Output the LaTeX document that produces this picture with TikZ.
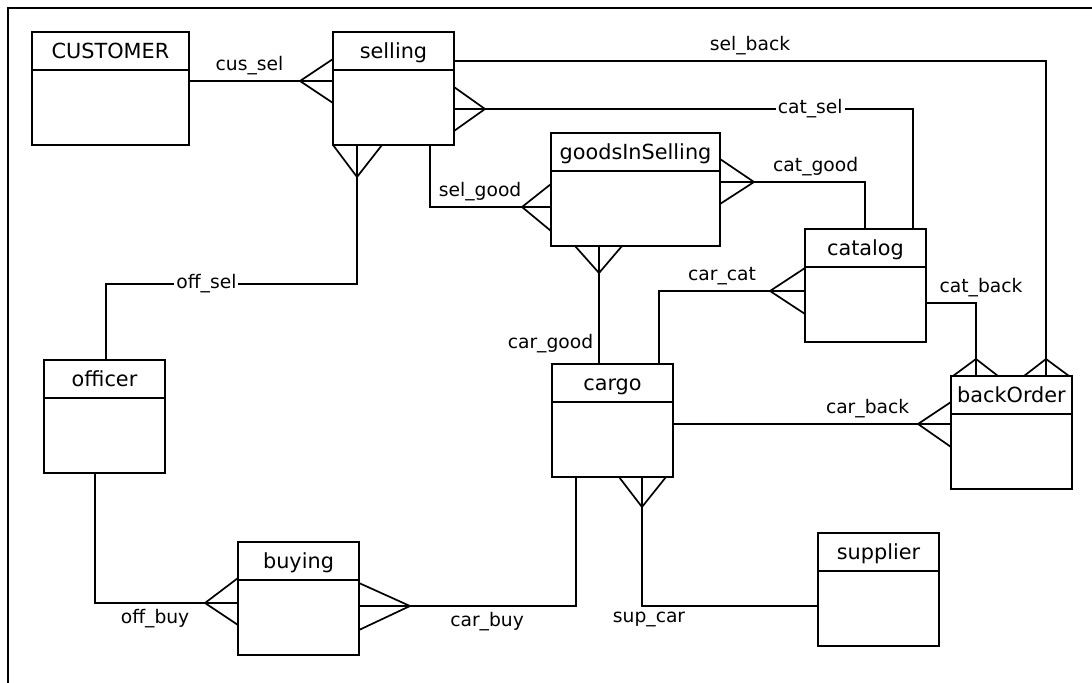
\documentclass[tikz,border=0pt]{standalone}
\usepackage{fontspec}
\setmainfont{DejaVu Sans}
\usetikzlibrary{calc, shapes.multipart}
\newcommand{\enttitle}[1]{\rule[-5.3pt]{0pt}{18pt}#1\nodepart{two}\rule{0pt}{36.5pt}}

\begin{document}
\begin{tikzpicture}[
  x=0.5pt, y=-0.5pt,
  font=\fontsize{9.35}{11}\selectfont,
  entity/.style={draw, line width=1pt, rectangle split, rectangle split parts=2, anchor=north west,
    inner xsep=0pt, inner ysep=0pt, outer sep=0pt, text width=60.5pt, align=center,
    font=\fontsize{10.4}{12}\selectfont},
  rel/.style={line width=0.85pt},
  foot/.style={line width=0.85pt, line join=miter},
  lbl/.style={inner sep=2.5pt},
  onlbl/.style={inner sep=1pt, fill=white}
]
\useasboundingbox (0,0) rectangle (1092,683);
\draw[line width=0.9pt] (8,683) -- (8,8) -- (1092,8);
% entities
\node[entity, text width=78.5pt] (customer) at (32,32) {\enttitle{CUSTOMER}};
\node[entity] (selling) at (333,32) {\enttitle{selling}};
\node[entity, text width=84.5pt] (goods) at (551,133) {\enttitle{goodsInSelling}};
\node[entity] (catalog) at (805,229) {\enttitle{catalog}};
\node[entity] (officer) at (44,360) {\enttitle{officer}};
\node[entity] (buying) at (238,542) {\enttitle{buying}};
\node[entity] (cargo) at (552,364) {\enttitle{cargo}};
\node[entity] (backorder) at (951,376) {\enttitle{backOrder}};
\node[entity] (supplier) at (818,533) {\enttitle{supplier}};
% relations
\draw[rel] ($(customer.north east)+(0,49)$) -- node[lbl, above, pos=0.42] {cus\_sel} ($(selling.north west)+(0,49)$);
\draw[foot] ($(selling.north west)+(0,27)$) -- ++(-33,22) -- ++(33,22);

\draw[rel] ($(selling.north east)+(0,29)$) -| node[lbl, above, pos=0.25] {sel\_back} ($(backorder.north west)+(95,0)$);
\draw[foot] ($(backorder.north west)+(73,0)$) -- ++(22,-17) -- ++(23,17);

\draw[rel] ($(selling.north east)+(0,77)$) -| node[onlbl, pos=0.388] {cat\_sel} ($(catalog.north west)+(108,0)$);
\draw[foot] ($(selling.north east)+(0,55)$) -- ++(31,22) -- ++(-31,22);

\draw[rel] ($(goods.north east)+(0,49)$) -| node[lbl, above, pos=0.33] {cat\_good} ($(catalog.north west)+(60,0)$);
\draw[foot] ($(goods.north east)+(0,26)$) -- ++(34,23) -- ++(-34,22);

\draw[rel] ($(selling.south west)+(97,0)$) |- node[lbl, above, pos=0.707] {sel\_good} ($(goods.north west)+(0,74)$);
\draw[foot] ($(goods.north west)+(0,51)$) -- ++(-29,23) -- ++(29,24);

\draw[rel] ($(selling.south west)+(24,0)$) |- node[onlbl, pos=0.8] {off\_sel} ($(officer.north west)+(62,-76)$) -- ($(officer.north west)+(62,0)$);
\draw[foot] (selling.south west) -- ++(24,32) -- ++(25,-32);

\draw[rel] ($(officer.south west)+(51,0)$) |- node[lbl, below, pos=0.71] {off\_buy} ($(buying.north west)+(0,61)$);
\draw[foot] ($(buying.north west)+(0,36)$) -- ++(-33,25) -- ++(33,22);

\draw[rel] ($(buying.north east)+(0,64)$) -| node[lbl, below, pos=0.295] {car\_buy} ($(cargo.south west)+(24,0)$);
\draw[foot] ($(buying.north east)+(0,41)$) -- ++(51,23) -- ++(-51,24);

\draw[rel] ($(cargo.south west)+(90,0)$) |- node[lbl, below, pos=0.52] {sup\_car} ($(supplier.north west)+(0,73)$);
\draw[foot] ($(cargo.south west)+(67,0)$) -- ++(23,30) -- ++(24,-30);

\draw[rel] ($(goods.south west)+(48,0)$) -- node[lbl, left, pos=0.83] {car\_good} ($(cargo.north west)+(47,0)$);
\draw[foot] ($(goods.south west)+(24,0)$) -- ++(24,27) -- ++(23,-27);

\draw[rel] ($(cargo.north west)+(107,0)$) |- node[lbl, above, pos=0.716] {car\_cat} ($(catalog.north west)+(0,62)$);
\draw[foot] ($(catalog.north west)+(0,39)$) -- ++(-35,23) -- ++(35,23);

\draw[rel] ($(cargo.north east)+(0,60)$) -- node[lbl, above, pos=0.7] {car\_back} ($(backorder.north west)+(0,48)$);
\draw[foot] ($(backorder.north west)+(0,26)$) -- ++(-33,22) -- ++(33,23);

\draw[rel] ($(catalog.north east)+(0,74)$) -| node[lbl, above, pos=0.5, xshift=2.5pt] {cat\_back} ($(backorder.north west)+(25,0)$);
\draw[foot] ($(backorder.north west)+(2,0)$) -- ++(23,-17) -- ++(22,17);
\end{tikzpicture}
\end{document}
